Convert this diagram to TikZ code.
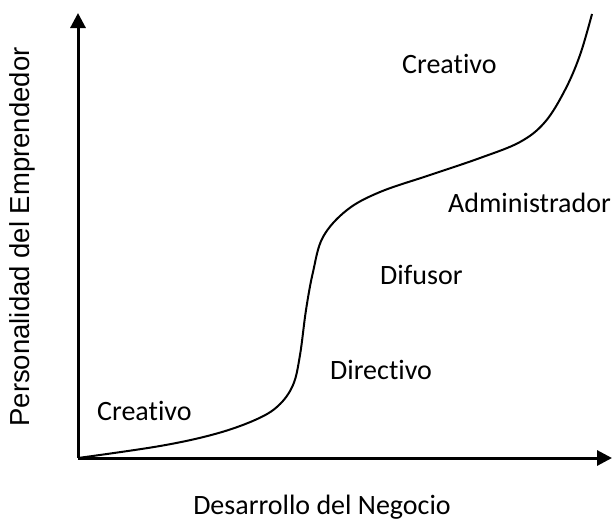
\documentclass[tikz,border=0pt]{standalone}
\usepackage{fontspec}
\usetikzlibrary{arrows.meta}
\setmainfont{Carlito}[Ligatures=NoCommon]
\newfontfamily\ylabfont{Liberation Sans}
\begin{document}
\begin{tikzpicture}[x=1pt,y=-1pt,
  lbl/.style={font=\fontsize{28}{32}\selectfont, inner sep=0pt, anchor=west},
  axisline/.style={line width=3pt, -{Triangle[length=15pt,width=15pt]}},
  curve/.style={line width=2pt}]
\useasboundingbox (0,0) rectangle (612,522);
\coordinate (o) at (78,458);
\coordinate (ytop) at (78,13);
\coordinate (xend) at (612,458);
\draw[axisline] (o) -- (ytop);
\draw[axisline] (o) -- (xend);
\draw[curve] plot[smooth, tension=0.6] coordinates {
 (78,458) (160,446) (215,434) (255,420) (278,406) (293,385) (300,355)
 (306,310) (313,272) (323,237) (347,210) (380,192) (430,175)
 (480,158) (520,142) (545,122) (565,90) (580,55) (592,14)};
\node[lbl] (c1) at (402,64) {Creativo};
\node[lbl] (ad) at (448,203) {Administrador};
\node[lbl] (di) at (380,275) {Difusor};
\node[lbl] (dr) at (330,370) {Directivo};
\node[lbl] (c2) at (97,411) {Creativo};
\node[font=\fontsize{28}{32}\selectfont, inner sep=0pt, anchor=base] (xl) at (322,514) {Desarrollo del Negocio};
\node[font=\ylabfont\fontsize{27.5}{32}\selectfont, inner sep=0pt, rotate=90] (yl) at (22,237) {Personalidad del Emprendedor};
\end{tikzpicture}
\end{document}
